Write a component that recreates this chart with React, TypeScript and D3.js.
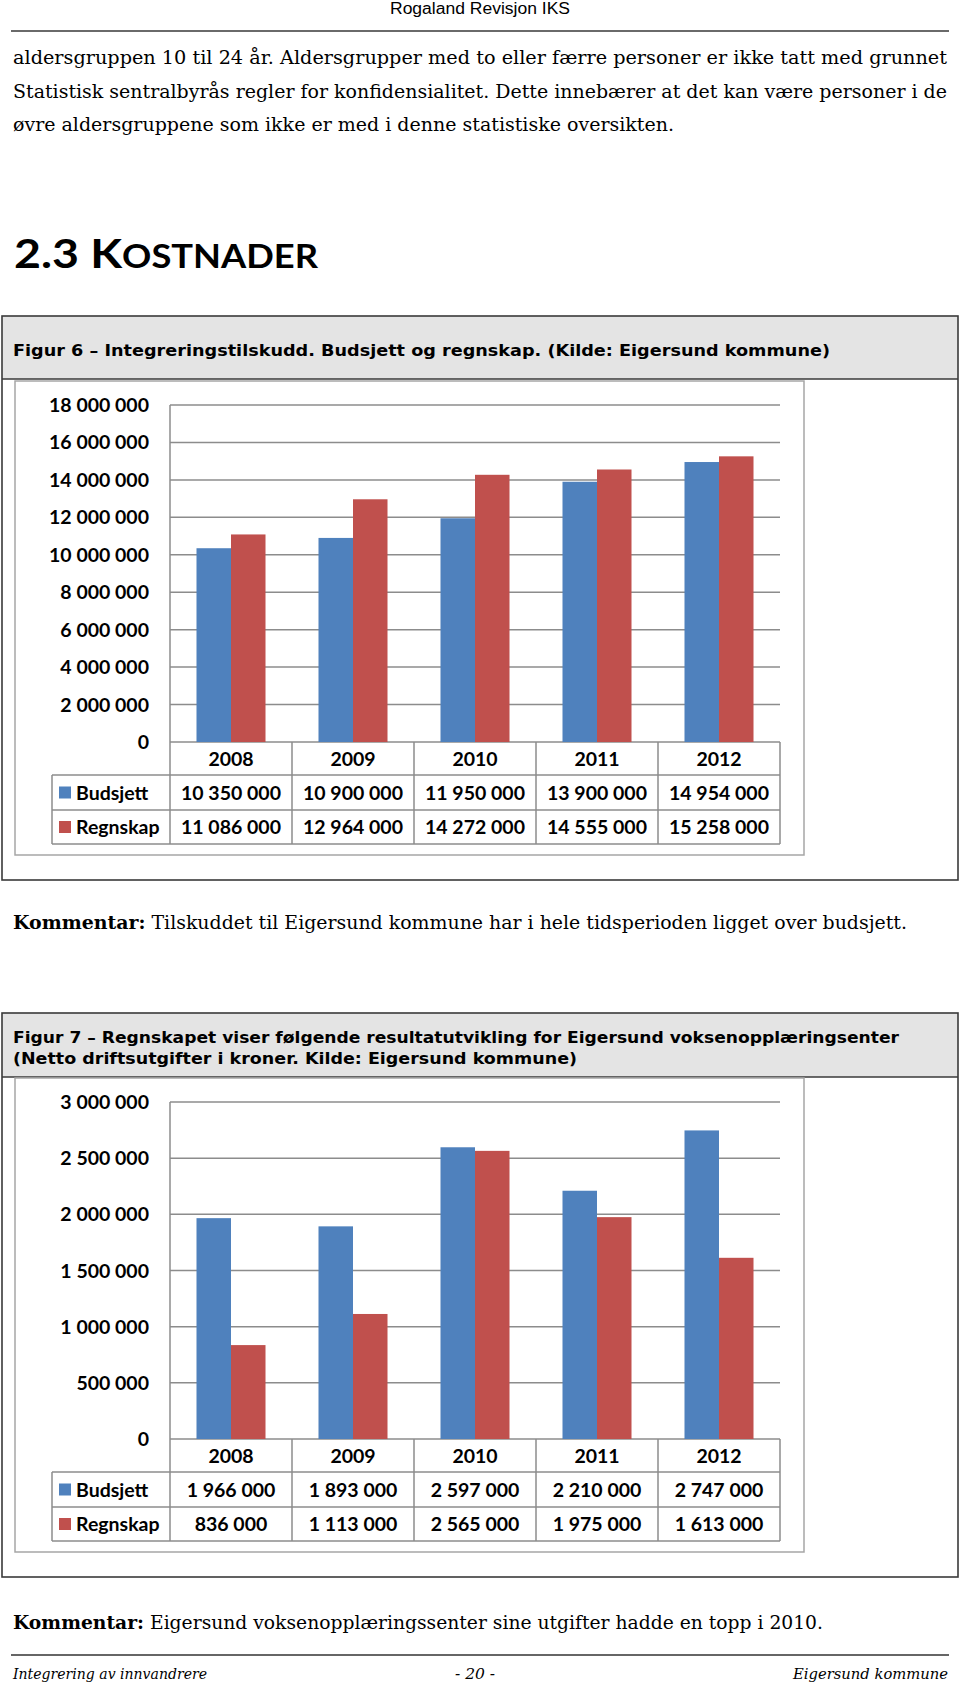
import React from 'react';
import * as d3 from 'd3';

// ---------- data ----------
const years = ['2008', '2009', '2010', '2011', '2012'];
const seriesNames = ['Budsjett', 'Regnskap'];
const seriesColors = ['#4f81bd', '#c0504d'];

const fig6Budsjett = [10350000, 10900000, 11950000, 13900000, 14954000];
const fig6Regnskap = [11086000, 12964000, 14272000, 14555000, 15258000];
const fig6Ticks = [0, 2000000, 4000000, 6000000, 8000000, 10000000, 12000000, 14000000, 16000000, 18000000];

const fig7Budsjett = [1966000, 1893000, 2597000, 2210000, 2747000];
const fig7Regnskap = [836000, 1113000, 2565000, 1975000, 1613000];
const fig7Ticks = [0, 500000, 1000000, 1500000, 2000000, 2500000, 3000000];

const headerText = 'Rogaland Revisjon IKS';
const bodyLines = [
  'aldersgruppen 10 til 24 år. Aldersgrupper med to eller færre personer er ikke tatt med grunnet',
  'Statistisk sentralbyrås regler for konfidensialitet. Dette innebærer at det kan være personer i de',
  'øvre aldersgruppene som ikke er med i denne statistiske oversikten.',
];
const fig6Title = 'Figur 6 – Integreringstilskudd. Budsjett og regnskap. (Kilde: Eigersund kommune)';
const fig7Title = [
  'Figur 7 – Regnskapet viser følgende resultatutvikling for Eigersund voksenopplæringsenter',
  '(Netto driftsutgifter i kroner. Kilde: Eigersund kommune)',
];
const comment6 = 'Tilskuddet til Eigersund kommune har i hele tidsperioden ligget over budsjett.';
const comment7 = 'Eigersund voksenopplæringssenter sine utgifter hadde en topp i 2010.';

const fmt = d3
  .formatLocale({ decimal: ',', thousands: ' ', grouping: [3], currency: ['', ''] })
  .format(',d');

const CHART_FONT = 'Lato, "Open Sans", sans-serif';
const SERIF = '"DejaVu Serif", "Liberation Serif", serif';
const GRID = '#8c8c8c';

type ChartProps = {
  top: number; // inner chart border top
  budsjett: number[];
  regnskap: number[];
  ticks: number[];
};

function BarTable({ top, budsjett, regnskap, ticks }: ChartProps) {
  const plotTop = top + 24;
  const plotBottom = top + 361;
  const innerBottom = top + 474;
  const plotLeft = 170;
  const plotRight = 780;
  const tableLeft = 52;
  const rowY = [plotBottom, plotBottom + 33, plotBottom + 68, plotBottom + 102];

  const x = d3.scaleBand<string>().domain(years).range([plotLeft, plotRight]).paddingInner(0).paddingOuter(0);
  const xs = d3
    .scaleBand<string>()
    .domain(seriesNames)
    .range([0, x.bandwidth()])
    .paddingInner(0)
    .paddingOuter(0.768);
  const y = d3
    .scaleLinear()
    .domain([0, ticks[ticks.length - 1]])
    .range([plotBottom, plotTop]);

  const data = [budsjett, regnskap];
  const fs = 19.5;

  return (
    <g>
      <rect x={15} y={top} width={789} height={innerBottom - top} fill="#fff" stroke="#a6a6a6" strokeWidth={1.5} />
      {ticks.map((t) => (
        <g key={t}>
          <line x1={plotLeft} x2={plotRight} y1={y(t)} y2={y(t)} stroke={GRID} strokeWidth={1.5} />
          <text
            x={149}
            y={y(t)}
            dy="0.36em"
            textAnchor="end"
            fontFamily={CHART_FONT}
            fontWeight={700}
            fontSize={fs}
            fill="#000"
          >
            {fmt(t)}
          </text>
        </g>
      ))}
      {data.map((vals, si) =>
        vals.map((v, i) => (
          <rect
            key={`${si}-${i}`}
            x={(x(years[i]) as number) + (xs(seriesNames[si]) as number)}
            y={y(v)}
            width={xs.bandwidth()}
            height={y(0) - y(v)}
            fill={seriesColors[si]}
          />
        ))
      )}
      <line x1={plotLeft} x2={plotLeft} y1={plotTop} y2={rowY[3]} stroke={GRID} strokeWidth={1.5} />
      {[1, 2, 3].map((r) => (
        <line key={r} x1={tableLeft} x2={plotRight} y1={rowY[r]} y2={rowY[r]} stroke={GRID} strokeWidth={1.5} />
      ))}
      <line x1={tableLeft} x2={tableLeft} y1={rowY[1]} y2={rowY[3]} stroke={GRID} strokeWidth={1.5} />
      {years.map((yr) => (
        <line
          key={yr}
          x1={(x(yr) as number) + x.bandwidth()}
          x2={(x(yr) as number) + x.bandwidth()}
          y1={rowY[0]}
          y2={rowY[3]}
          stroke={GRID}
          strokeWidth={1.5}
        />
      ))}
      {years.map((yr) => (
        <text
          key={yr}
          x={(x(yr) as number) + x.bandwidth() / 2}
          y={(rowY[0] + rowY[1]) / 2}
          dy="0.36em"
          textAnchor="middle"
          fontFamily={CHART_FONT}
          fontWeight={700}
          fontSize={fs}
        >
          {yr}
        </text>
      ))}
      {data.map((vals, si) => {
        const cy = (rowY[si + 1] + rowY[si + 2]) / 2;
        return (
          <g key={si}>
            <rect x={59} y={cy - 6} width={12} height={12} fill={seriesColors[si]} />
            <text x={76} y={cy} dy="0.36em" fontFamily={CHART_FONT} fontWeight={700} fontSize={fs}>
              {seriesNames[si]}
            </text>
            {vals.map((v, i) => (
              <text
                key={i}
                x={(x(years[i]) as number) + x.bandwidth() / 2}
                y={cy}
                dy="0.36em"
                textAnchor="middle"
                fontFamily={CHART_FONT}
                fontWeight={700}
                fontSize={fs}
              >
                {fmt(v)}
              </text>
            ))}
          </g>
        );
      })}
    </g>
  );
}

function FigureBox({ top, bottom, bandBottom }: { top: number; bottom: number; bandBottom: number }) {
  return (
    <g>
      <rect x={2} y={top} width={956} height={bandBottom - top} fill="#e4e4e4" />
      <rect x={2} y={top} width={956} height={bottom - top} fill="none" stroke="#3a3a3a" strokeWidth={1.6} />
      <line x1={2} x2={958} y1={bandBottom} y2={bandBottom} stroke="#3a3a3a" strokeWidth={1.6} />
    </g>
  );
}

const TITLE_FONT = '"DejaVu Sans", Verdana, sans-serif';

export default function App() {
  return (
    <svg
      width={960}
      height={1688}
      viewBox="0 0 960 1688"
      style={{ position: 'absolute', left: 0, top: 0, background: '#fff' }}
    >
      <rect x={0} y={0} width={960} height={1688} fill="#fff" />
      <text
        x={480}
        y={14}
        textAnchor="middle"
        fontFamily='"Liberation Sans", Arial, sans-serif'
        fontSize={16}
        textLength={180}
        lengthAdjust="spacingAndGlyphs"
      >
        {headerText}
      </text>
      <line x1={11} x2={949} y1={31} y2={31} stroke="#6a6a6a" strokeWidth={2} />

      {bodyLines.map((l, i) => (
        <text
          key={i}
          x={13}
          y={64 + i * 33.5}
          fontFamily={SERIF}
          fontSize={18.5}
          textLength={i < 2 ? 934 : 661}
          lengthAdjust="spacingAndGlyphs"
        >
          {l}
        </text>
      ))}

      <text
        x={14}
        y={268}
        fontFamily='Lato, "Open Sans", sans-serif'
        fontWeight={700}
        fontSize={41}
        textLength={304}
        lengthAdjust="spacingAndGlyphs"
      >
        2.3 K<tspan fontSize={32}>OSTNADER</tspan>
      </text>

      <FigureBox top={316} bottom={880} bandBottom={379} />
      <text
        x={13}
        y={356}
        fontFamily={TITLE_FONT}
        fontWeight={700}
        fontSize={15.5}
        textLength={817}
        lengthAdjust="spacingAndGlyphs"
      >
        {fig6Title}
      </text>
      <BarTable top={381} budsjett={fig6Budsjett} regnskap={fig6Regnskap} ticks={fig6Ticks} />

      <text x={13} y={929} fontFamily={SERIF} fontSize={18.5} textLength={894} lengthAdjust="spacingAndGlyphs">
        <tspan fontWeight={700}>Kommentar:</tspan> {comment6}
      </text>

      <FigureBox top={1013} bottom={1577} bandBottom={1077} />
      <text
        x={13}
        y={1043}
        fontFamily={TITLE_FONT}
        fontWeight={700}
        fontSize={15.5}
        textLength={886}
        lengthAdjust="spacingAndGlyphs"
      >
        {fig7Title[0]}
      </text>
      <text
        x={13}
        y={1064}
        fontFamily={TITLE_FONT}
        fontWeight={700}
        fontSize={15.5}
        textLength={564}
        lengthAdjust="spacingAndGlyphs"
      >
        {fig7Title[1]}
      </text>
      <BarTable top={1078} budsjett={fig7Budsjett} regnskap={fig7Regnskap} ticks={fig7Ticks} />

      <text x={13} y={1629} fontFamily={SERIF} fontSize={18.5} textLength={810} lengthAdjust="spacingAndGlyphs">
        <tspan fontWeight={700}>Kommentar:</tspan> {comment7}
      </text>

      <line x1={11} x2={949} y1={1655} y2={1655} stroke="#333" strokeWidth={1.6} />
      <text x={13} y={1679} fontFamily={SERIF} fontStyle="italic" fontSize={15.5} textLength={194} lengthAdjust="spacingAndGlyphs">
        Integrering av innvandrere
      </text>
      <text x={475} y={1679} textAnchor="middle" fontFamily={SERIF} fontStyle="italic" fontSize={15.5}>
        - 20 -
      </text>
      <text x={948} y={1679} textAnchor="end" fontFamily={SERIF} fontStyle="italic" fontSize={15.5} textLength={155} lengthAdjust="spacingAndGlyphs">
        Eigersund  kommune
      </text>
    </svg>
  );
}
